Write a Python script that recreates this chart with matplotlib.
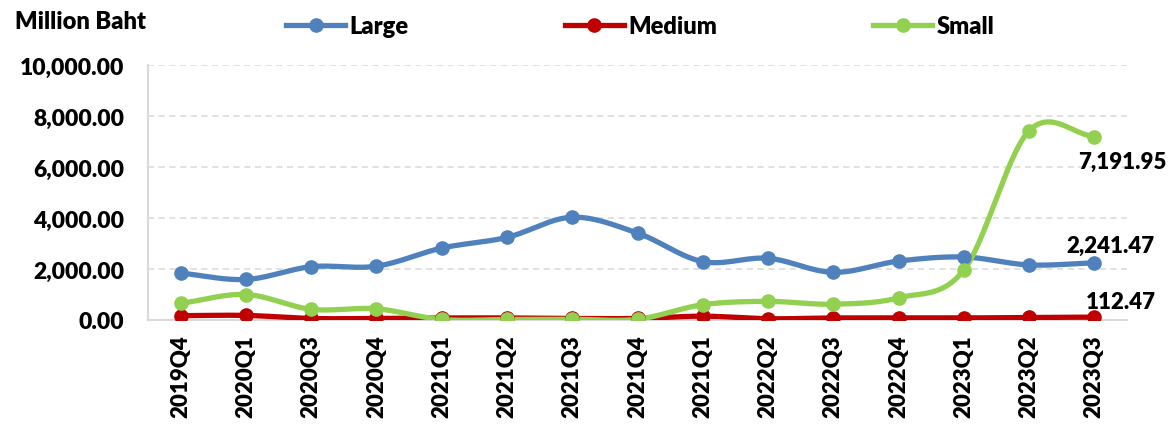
import numpy as np
import matplotlib.pyplot as plt
from matplotlib.lines import Line2D

# data (million baht)
quarters = ['2019Q4', '2020Q1', '2020Q3', '2020Q4', '2021Q1', '2021Q2', '2021Q3',
            '2021Q4', '2021Q1', '2022Q2', '2022Q3', '2022Q4', '2023Q1', '2023Q2', '2023Q3']
large = [1840, 1590, 2090, 2110, 2820, 3240, 4030, 3410, 2290, 2420, 1870, 2310, 2470, 2160, 2241.47]
medium = [170, 180, 60, 60, 80, 80, 60, 60, 150, 50, 80, 80, 80, 100, 112.47]
small = [650, 1000, 420, 440, 20, 20, 30, 30, 600, 730, 620, 870, 1960, 7420, 7191.95]

series_names = ['Large', 'Medium', 'Small']
series_colors = ['#4F81BD', '#C00000', '#92D050']

FONT = 'Lato'
W = 'heavy'


def smooth(xs, ys, n=30):
    # Catmull-Rom curve through the points, like Excel's smoothed line
    xs = np.asarray(xs, float)
    ys = np.asarray(ys, float)
    px = np.concatenate([[2 * xs[0] - xs[1]], xs, [2 * xs[-1] - xs[-2]]])
    py = np.concatenate([[2 * ys[0] - ys[1]], ys, [2 * ys[-1] - ys[-2]]])
    out_x, out_y = [], []
    t = np.linspace(0, 1, n)
    for i in range(1, len(px) - 2):
        for p, out in ((px, out_x), (py, out_y)):
            p0, p1, p2, p3 = p[i - 1], p[i], p[i + 1], p[i + 2]
            out.extend(0.5 * ((2 * p1) + (-p0 + p2) * t
                              + (2 * p0 - 5 * p1 + 4 * p2 - p3) * t ** 2
                              + (-p0 + 3 * p1 - 3 * p2 + p3) * t ** 3))
    return np.array(out_x), np.array(out_y)


fig = plt.figure(figsize=(11.73, 4.27), dpi=100)
ax = fig.add_axes([148 / 1173, 1 - 321 / 427, (1127 - 148) / 1173, (321 - 66) / 427])

x = np.arange(len(quarters))
for name, vals, col in zip(series_names, [large, medium, small], series_colors):
    sx, sy = smooth(x, vals)
    ax.plot(sx, sy, color=col, lw=3.8, solid_capstyle='round', zorder=3)
    ax.plot(x, vals, 'o', color=col, ms=9.5, zorder=4)

ax.set_xlim(-0.5, len(quarters) - 0.5)
ax.set_ylim(0, 10000)
ax.set_yticks(np.arange(0, 10001, 2000))
ax.set_yticklabels([f'{v:,.2f}' for v in np.arange(0, 10001, 2000)],
                   fontsize=16.5, fontweight=W, family=FONT)
ax.set_xticks(x)
ax.set_xticklabels(quarters, rotation=90, fontsize=16, fontweight=W, family=FONT)
ax.tick_params(length=0)
ax.tick_params(axis='y', pad=17)
ax.tick_params(axis='x', pad=10)

ax.grid(axis='y', color='#D9D9D9', linestyle=(0, (4, 3)), lw=1.1)
ax.set_axisbelow(True)
for s in ['top', 'right']:
    ax.spines[s].set_visible(False)
for s in ['left', 'bottom']:
    ax.spines[s].set_color('#D9D9D9')
    ax.spines[s].set_linewidth(1.5)

# end-of-line value labels
last = len(quarters) - 1
ax.annotate(f'{small[-1]:,.2f}', (last, small[-1]), xytext=(-12, -10), textcoords='offset points',
            ha='left', va='top', fontsize=16, fontweight=W, family=FONT)
ax.annotate(f'{large[-1]:,.2f}', (last, large[-1]), xytext=(-20, 5), textcoords='offset points',
            ha='left', va='bottom', fontsize=16, fontweight=W, family=FONT)
ax.annotate(f'{medium[-1]:,.2f}', (last, medium[-1]), xytext=(-6, 4), textcoords='offset points',
            ha='left', va='bottom', fontsize=16, fontweight=W, family=FONT)

fig.text(15 / 1173, 1 - 22 / 427, 'Million Baht', fontsize=17, fontweight=W,
         family=FONT, va='center', ha='left')

handles = [Line2D([0], [0], color=c, lw=3.8, marker='o', ms=9.5) for c in series_colors]
fig.legend(handles, series_names, loc='center', bbox_to_anchor=(0.546, 1 - 27 / 427),
           ncol=3, frameon=False, columnspacing=6.6, handlelength=2.5, handletextpad=0.2,
           prop={'family': FONT, 'weight': W, 'size': 17})

fig.savefig('out.png', dpi=100)
